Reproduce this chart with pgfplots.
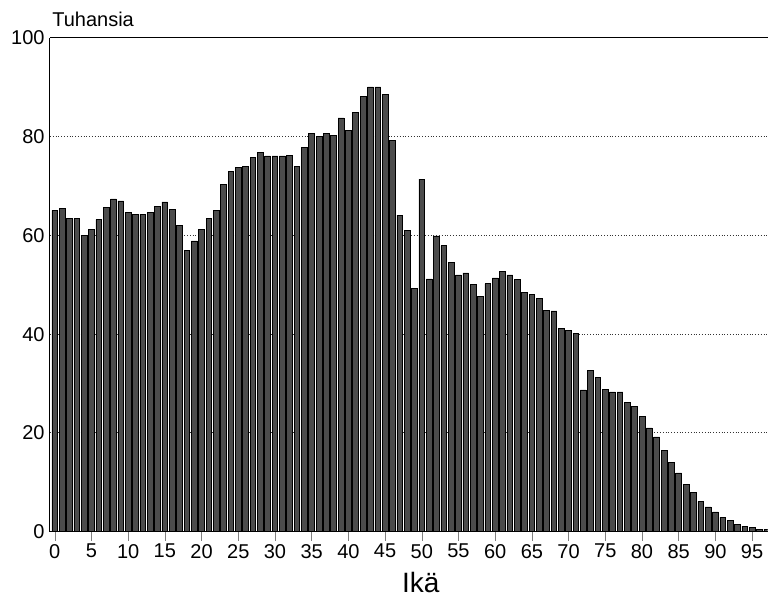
\documentclass[border=0pt]{standalone}
\usepackage{pgfplots}
\pgfplotsset{compat=1.18}
\usepackage{fontspec}
\setmainfont{Liberation Sans}

% population by age, thousands
\pgfplotstableread{
age val
0 65.1
1 65.5
2 63.4
3 63.4
4 60.0
5 61.2
6 63.2
7 65.7
8 67.4
9 67.0
10 64.6
11 64.2
12 64.3
13 64.7
14 65.8
15 66.8
16 65.3
17 62.1
18 56.9
19 58.9
20 61.2
21 63.4
22 65.1
23 70.4
24 72.9
25 73.8
26 74.0
27 75.8
28 76.9
29 76.1
30 76.1
31 76.1
32 76.2
33 74.0
34 77.9
35 80.6
36 80.1
37 80.6
38 80.3
39 83.8
40 81.3
41 85.0
42 88.1
43 90.1
44 90.1
45 88.5
46 79.3
47 64.1
48 61.1
49 49.2
50 71.4
51 51.2
52 59.9
53 57.9
54 54.5
55 52.0
56 52.4
57 50.1
58 47.7
59 50.2
60 51.4
61 52.7
62 52.0
63 51.1
64 48.4
65 48.1
66 47.3
67 44.9
68 44.7
69 41.1
70 40.7
71 40.1
72 28.7
73 32.7
74 31.2
75 28.8
76 28.3
77 28.3
78 26.1
79 25.4
80 23.3
81 21.0
82 19.2
83 16.5
84 14.1
85 11.9
86 9.5
87 7.9
88 6.1
89 5.0
90 4.0
91 2.9
92 2.2
93 1.5
94 1.1
95 0.8
96 0.5
97 0.5
}\agedata

\begin{document}
\begin{tikzpicture}
\begin{axis}[
  scale only axis,
  width=359pt, height=247pt,
  xmin=-0.65, xmax=97.1,
  ymin=0, ymax=100,
  axis x line*=box,
  axis y line*=left,
  y axis line style={-},
  x axis line style={-},
  axis line style={line width=0.5pt},
  xtick={0,5,...,95},
  xtick pos=bottom,
  xtick align=outside,
  major tick length=4.5pt,
  ytick={0,20,...,100},
  ytick style={draw=none},
  ymajorgrids,
  grid style={densely dotted, black!80, line width=0.5pt},
  /pgf/number format/assume math mode=true,
  tick label style={font=\fontsize{10}{12}\selectfont},
  yticklabel style={inner sep=0pt, xshift=-2.5pt},
  xticklabel style={inner sep=0pt, yshift=-1.5pt},
  xlabel={Ikä},
  xlabel style={at={(axis description cs:0.5,0)}, anchor=base,
    inner sep=0pt, xshift=6pt, yshift=-30.5pt,
    font=\fontsize{14}{16}\selectfont},
  clip mode=individual,
]
\addplot[ybar, bar width=0.78, fill=black!70, draw=black, line width=0.35pt]
  table[x=age, y=val] {\agedata};
\end{axis}
\node[anchor=base west, inner sep=0pt, font=\fontsize{10}{12}\selectfont]
  at (current axis.north west) [yshift=5.5pt, xshift=1pt] {Tuhansia};
% frame the page as in the reference
\path (current axis.south west) ++(-25pt,-32pt) coordinate (bbsw);
\path (current axis.north east) ++(0pt,19pt) coordinate (bbne);
\useasboundingbox (bbsw) rectangle (bbne);
\end{tikzpicture}
\end{document}
